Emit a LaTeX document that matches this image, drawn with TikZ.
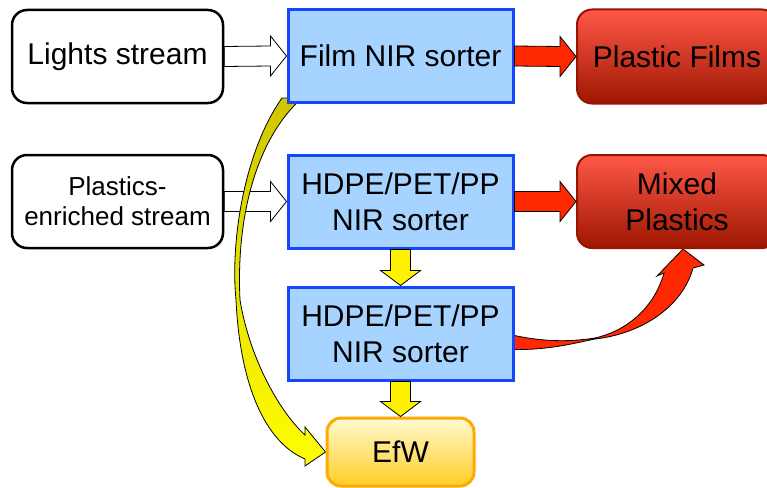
\documentclass[tikz,border=0pt]{standalone}
\usepackage{fontspec}
\setmainfont{Liberation Sans}
\usetikzlibrary{calc,backgrounds}

\definecolor{sortfill}{RGB}{166,211,255}
\definecolor{sortline}{RGB}{20,70,255}
\definecolor{prodtop}{RGB}{255,88,72}
\definecolor{prodbot}{RGB}{158,22,0}
\definecolor{prodline}{RGB}{150,20,0}
\definecolor{efwtop}{RGB}{255,250,208}
\definecolor{efwbot}{RGB}{255,205,35}
\definecolor{efwline}{RGB}{255,170,0}
\definecolor{redarr}{RGB}{255,40,0}
\definecolor{yolive}{RGB}{208,198,0}

% block arrows between two anchors
\newcommand\hblock[3]{%
  \draw[#1] ($(#2)+(0,-10)$) -- ($(#3)+(-16,-10)$) -- ($(#3)+(-16,-20)$) -- (#3)
    -- ($(#3)+(-16,20)$) -- ($(#3)+(-16,10)$) -- ($(#2)+(0,10)$) -- cycle;}
\newcommand\vblock[3]{%
  \draw[#1] ($(#2)+(-10,0)$) -- ($(#3)+(-10,-15)$) -- ($(#3)+(-20,-15)$) -- (#3)
    -- ($(#3)+(20,-15)$) -- ($(#3)+(10,-15)$) -- ($(#2)+(10,0)$) -- cycle;}

\begin{document}
\begin{tikzpicture}[x=1pt, y=-1pt,
    every node/.style={font=\fontsize{30}{36}\selectfont, align=center, inner sep=0pt},
    src/.style={draw=black, line width=2.5pt, fill=white, rounded corners=15pt,
                minimum width=211pt, minimum height=93pt},
    sorter/.style={draw=sortline, line width=3pt, fill=sortfill,
                   minimum width=225pt, minimum height=92pt},
    prod/.style={draw=prodline, line width=2pt, rounded corners=15pt,
                 top color=prodtop, bottom color=prodbot,
                 minimum width=200pt, minimum height=94pt},
    efwbox/.style={draw=efwline, line width=3pt, rounded corners=14pt,
                   top color=efwtop, bottom color=efwbot,
                   minimum width=147pt, minimum height=68pt},
    warr/.style={draw=black, line width=0.8pt, fill=white},
    rarr/.style={draw=black, line width=0.8pt, fill=redarr},
    yarr/.style={draw=black, line width=0.8pt, fill=yellow},
    ycurve/.style={draw=black, line width=0.8pt, top color=yolive,
                   middle color=yellow, bottom color=yellow},
]
\useasboundingbox (0,0) rectangle (767,487);

% --- inputs -------------------------------------------------------------
\node[src] (lights) at (117.5,56.5) {Lights stream};
\node[src, font=\fontsize{26}{30}\selectfont] (plastics) at (117.5,201.5) {Plastics-\\enriched stream};

% --- sorters ------------------------------------------------------------
\node[sorter] (film)  at (400.5,56)    {Film NIR sorter};
\node[sorter, minimum height=93pt] (hdpeA) at (400.5,201.5) {HDPE/PET/PP\\NIR sorter};
\node[sorter, minimum height=93pt] (hdpeB) at (400.5,333.5) {HDPE/PET/PP\\NIR sorter};

% --- outputs ------------------------------------------------------------
\node[prod] (films) at (677,56.5)  {Plastic Films};
\node[prod, minimum height=93pt] (mixed) at (677,201.5) {Mixed\\Plastics};
\node[efwbox] (efw) at (400.5,452) {EfW};

\begin{pgfonlayer}{background}
  \hblock{warr}{lights.east}{film.west}
  \hblock{warr}{plastics.east}{hdpeA.west}
  % residue of film sorter to EfW
  \draw[ycurve] (282,98) .. controls (245,150) and (230,240) .. (236,300)
    .. controls (240,385) and (265,442) .. (305,459) -- (305,466) -- (efw.west)
    -- (305,427) -- (305,435)
    .. controls (280,412) and (250,360) .. (240,300)
    .. controls (236,220) and (255,140) .. (302,98) -- cycle;
  % second sorter to mixed plastics
  \draw[rarr] ($(hdpeB.east)+(0,2)$) .. controls (550,343) and (575,341) .. (595,338)
    .. controls (630,330) and (655,305) .. (664,273) -- (657,276)
    -- ($(mixed.south)+(6,0)$) -- (704,265) -- (693,268)
    .. controls (682,308) and (640,334) .. (595,339)
    .. controls (575,343) and (550,350) .. ($(hdpeB.east)+(0,16)$) -- cycle;
\end{pgfonlayer}

\hblock{rarr}{film.east}{films.west}
\hblock{rarr}{hdpeA.east}{mixed.west}
\vblock{yarr}{hdpeA.south}{hdpeB.north}
\vblock{yarr}{hdpeB.south}{efw.north}
\end{tikzpicture}
\end{document}
